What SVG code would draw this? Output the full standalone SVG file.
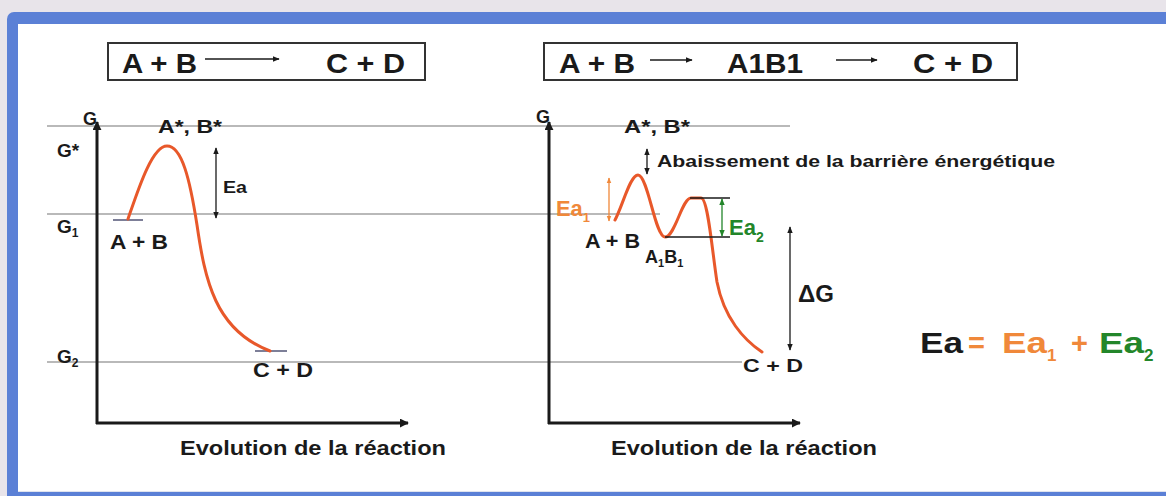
<svg xmlns="http://www.w3.org/2000/svg" width="1166" height="496" viewBox="0 0 1166 496">
<defs>
<style>
text{font-family:"Liberation Sans",Arial,sans-serif;font-weight:bold;fill:#1a1a1a}
.grid{stroke:#b9b9b9;stroke-width:2;fill:none}
.axis{stroke:#1a1a1a;stroke-width:3;fill:none}
.curve{stroke:#e8582a;stroke-width:3;fill:none;stroke-linecap:round;stroke-linejoin:round}
.thin{stroke:#1a1a1a;stroke-width:1.3;fill:none}
.or{fill:#f0883a}
.gr{fill:#23862a}
</style>
<marker id="ah" viewBox="0 0 10 10" refX="9" refY="5" markerWidth="9" markerHeight="9" markerUnits="userSpaceOnUse" orient="auto-start-reverse"><path d="M0,0 L10,5 L0,10 z" fill="#1a1a1a"/></marker>
<marker id="ahs" viewBox="0 0 10 10" refX="9" refY="5" markerWidth="7" markerHeight="7" markerUnits="userSpaceOnUse" orient="auto-start-reverse"><path d="M0,1 L10,5 L0,9 z" fill="#1a1a1a"/></marker>
<marker id="aho" viewBox="0 0 10 10" refX="9" refY="5" markerWidth="6" markerHeight="6" markerUnits="userSpaceOnUse" orient="auto-start-reverse"><path d="M0,1 L10,5 L0,9 z" fill="#f0883a"/></marker>
<marker id="ahg" viewBox="0 0 10 10" refX="9" refY="5" markerWidth="7" markerHeight="7" markerUnits="userSpaceOnUse" orient="auto-start-reverse"><path d="M0,1 L10,5 L0,9 z" fill="#23862a"/></marker>
</defs>

<rect x="0" y="0" width="1166" height="496" fill="#e8e4ea"/>
<rect x="7" y="12" width="1175" height="500" rx="7" fill="#5b80d6"/>
<rect x="18" y="24" width="1160" height="467" fill="#ffffff"/>
<line x1="18" y1="491.5" x2="1166" y2="491.5" stroke="#dfe3ee" stroke-width="1"/>

<g id="gridlines">
<line class="grid" x1="47" y1="126" x2="790" y2="126"/>
<line class="grid" x1="47" y1="214" x2="660" y2="214"/>
<line class="grid" x1="47" y1="362" x2="742" y2="362"/>
</g>

<g id="title-left">
<rect x="108" y="43" width="317" height="37" fill="#fff" stroke="#333" stroke-width="2"/>
<text x="122" y="73" font-size="28" textLength="75" lengthAdjust="spacingAndGlyphs">A + B</text>
<line class="thin" x1="205" y1="59" x2="279" y2="59" marker-end="url(#ahs)"/>
<text x="326" y="73" font-size="28" textLength="79" lengthAdjust="spacingAndGlyphs">C + D</text>
</g>

<g id="title-right">
<rect x="544" y="43" width="473" height="37" fill="#fff" stroke="#333" stroke-width="2"/>
<text x="559" y="73" font-size="28" textLength="76" lengthAdjust="spacingAndGlyphs">A + B</text>
<line class="thin" x1="650" y1="60" x2="692" y2="60" marker-end="url(#ahs)"/>
<text x="727" y="73" font-size="28" textLength="76" lengthAdjust="spacingAndGlyphs">A1B1</text>
<line class="thin" x1="836" y1="60" x2="877" y2="60" marker-end="url(#ahs)"/>
<text x="913" y="73" font-size="28" textLength="80" lengthAdjust="spacingAndGlyphs">C + D</text>
</g>

<g id="graph-left">
<line class="axis" x1="97" y1="424" x2="97" y2="122" marker-end="url(#ah)"/>
<line class="axis" x1="96" y1="423" x2="408" y2="423" marker-end="url(#ah)"/>
<text x="83" y="125" font-size="18">G</text>
<text x="57" y="157" font-size="19">G*</text>
<text x="57" y="233" font-size="19">G<tspan font-size="12" dy="4">1</tspan></text>
<text x="57" y="363" font-size="19">G<tspan font-size="12" dy="4">2</tspan></text>
<text x="158" y="133" font-size="18" textLength="64" lengthAdjust="spacingAndGlyphs">A*, B*</text>
<line x1="113" y1="220" x2="143" y2="220" stroke="#7d7f98" stroke-width="2"/>
<line x1="255" y1="351" x2="287" y2="351" stroke="#7d7f98" stroke-width="2"/>
<path class="curve" d="M128,219 C138,190 152,146 167,146 C182,146 190,180 197,225 C205,280 215,330 270,351"/>
<line class="thin" x1="216" y1="148" x2="216" y2="218" marker-start="url(#ahs)" marker-end="url(#ahs)"/>
<text x="223" y="193" font-size="17" textLength="24" lengthAdjust="spacingAndGlyphs">Ea</text>
<text x="110" y="249" font-size="21" textLength="58" lengthAdjust="spacingAndGlyphs">A + B</text>
<text x="253" y="377" font-size="20" textLength="60" lengthAdjust="spacingAndGlyphs">C + D</text>
<text x="180" y="455" font-size="21" textLength="266" lengthAdjust="spacingAndGlyphs">Evolution de la réaction</text>
</g>

<g id="graph-right">
<line class="axis" x1="549" y1="424" x2="549" y2="122" marker-end="url(#ah)"/>
<line class="axis" x1="548" y1="423" x2="800" y2="423" marker-end="url(#ah)"/>
<text x="536" y="123" font-size="18">G</text>
<text x="624" y="133" font-size="18" textLength="66" lengthAdjust="spacingAndGlyphs">A*, B*</text>
<line class="thin" x1="647" y1="149" x2="647" y2="174" marker-start="url(#ahs)" marker-end="url(#ahs)"/>
<text x="657" y="167" font-size="16" textLength="398" lengthAdjust="spacingAndGlyphs">Abaissement de la barrière énergétique</text>
<path class="curve" d="M615,220 C623,205 630,175 638,175 C648,175 655,237 665,237 C675,237 682,198 691,198 L701,198 C708,198 712,250 717,282 C724,318 744,340 762,352"/>
<line x1="609" y1="178" x2="609" y2="221" stroke="#f0883a" stroke-width="1.3" marker-start="url(#aho)" marker-end="url(#aho)"/>
<text class="or" x="556" y="216" font-size="22" textLength="34" lengthAdjust="spacingAndGlyphs">Ea<tspan font-size="13" dy="6">1</tspan></text>
<line class="thin" x1="690" y1="198" x2="730" y2="198"/>
<line class="thin" x1="665" y1="237" x2="730" y2="237"/>
<line x1="722" y1="199" x2="722" y2="236" stroke="#23862a" stroke-width="1.3" marker-start="url(#ahg)" marker-end="url(#ahg)"/>
<text class="gr" x="729" y="235" font-size="22">Ea<tspan font-size="14" dy="7">2</tspan></text>
<text x="585" y="248" font-size="20" textLength="55" lengthAdjust="spacingAndGlyphs">A + B</text>
<text x="645" y="263" font-size="18">A<tspan font-size="11" dy="4">1</tspan><tspan dy="-4">B</tspan><tspan font-size="11" dy="4">1</tspan></text>
<line class="thin" x1="790" y1="227" x2="790" y2="350" marker-start="url(#ahs)" marker-end="url(#ahs)"/>
<text x="798" y="302" font-size="24">ΔG</text>
<text x="743" y="372" font-size="19" textLength="60" lengthAdjust="spacingAndGlyphs">C + D</text>
<text x="611" y="455" font-size="21" textLength="266" lengthAdjust="spacingAndGlyphs">Evolution de la réaction</text>
</g>

<g id="equation">
<text x="920" y="353" font-size="29" textLength="43" lengthAdjust="spacingAndGlyphs">Ea</text>
<text class="or" x="968" y="353" font-size="29">=</text>
<text class="or" x="1002" y="353" font-size="29" textLength="45" lengthAdjust="spacingAndGlyphs">Ea</text>
<text class="or" x="1047" y="361" font-size="17">1</text>
<text class="or" x="1071" y="353" font-size="29">+</text>
<text class="gr" x="1099" y="353" font-size="29" textLength="45" lengthAdjust="spacingAndGlyphs">Ea</text>
<text class="gr" x="1144" y="361" font-size="17">2</text>
</g>
</svg>
